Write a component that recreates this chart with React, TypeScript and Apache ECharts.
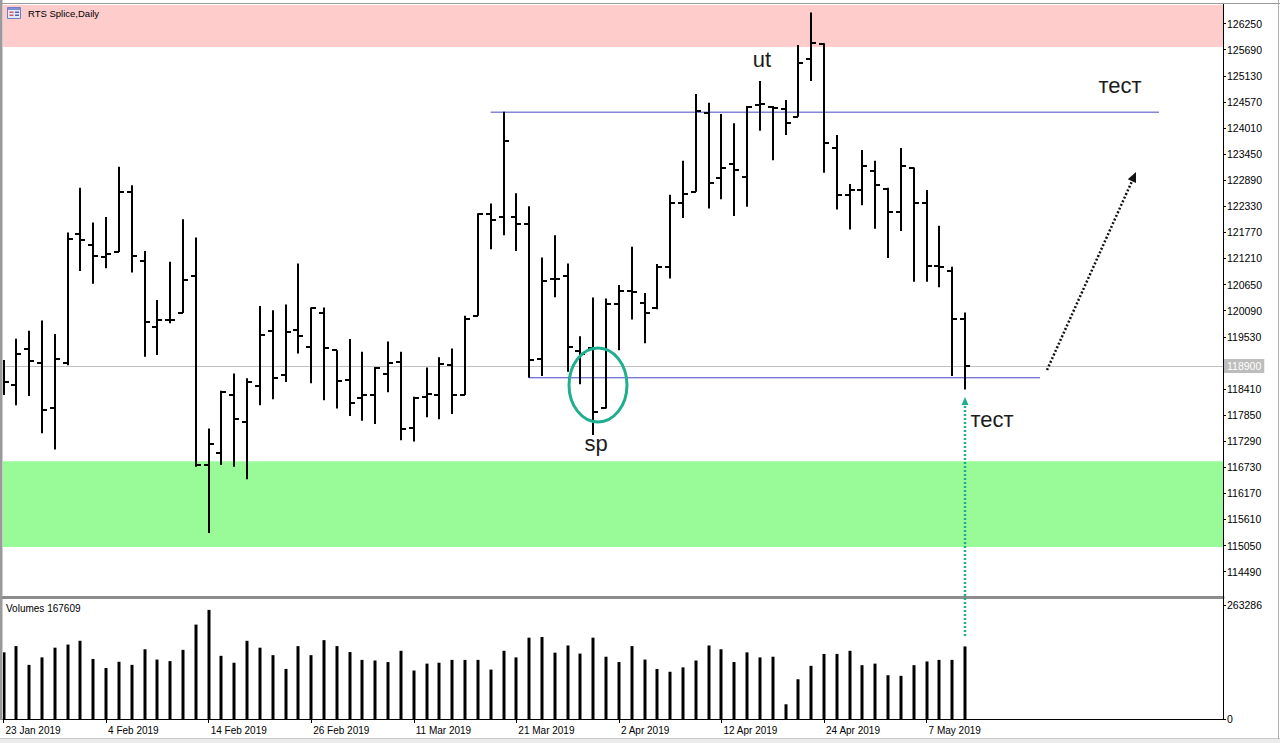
import React, { useEffect, useRef } from 'react';
import * as echarts from 'echarts';

// ---- data ----
const dates = [
  '23 Jan 2019', '24 Jan 2019', '25 Jan 2019', '28 Jan 2019', '29 Jan 2019', '30 Jan 2019', '31 Jan 2019', '1 Feb 2019',
  '4 Feb 2019', '5 Feb 2019', '6 Feb 2019', '7 Feb 2019', '8 Feb 2019', '11 Feb 2019', '12 Feb 2019', '13 Feb 2019',
  '14 Feb 2019', '15 Feb 2019', '18 Feb 2019', '19 Feb 2019', '20 Feb 2019', '21 Feb 2019', '22 Feb 2019', '25 Feb 2019',
  '26 Feb 2019', '27 Feb 2019', '28 Feb 2019', '1 Mar 2019', '4 Mar 2019', '5 Mar 2019', '6 Mar 2019', '7 Mar 2019',
  '11 Mar 2019', '12 Mar 2019', '13 Mar 2019', '14 Mar 2019', '15 Mar 2019', '18 Mar 2019', '19 Mar 2019', '20 Mar 2019',
  '21 Mar 2019', '22 Mar 2019', '25 Mar 2019', '26 Mar 2019', '27 Mar 2019', '28 Mar 2019', '29 Mar 2019', '1 Apr 2019',
  '2 Apr 2019', '3 Apr 2019', '4 Apr 2019', '5 Apr 2019', '8 Apr 2019', '9 Apr 2019', '10 Apr 2019', '11 Apr 2019',
  '12 Apr 2019', '15 Apr 2019', '16 Apr 2019', '17 Apr 2019', '18 Apr 2019', '19 Apr 2019', '22 Apr 2019', '23 Apr 2019',
  '24 Apr 2019', '25 Apr 2019', '26 Apr 2019', '29 Apr 2019', '30 Apr 2019', '2 May 2019', '3 May 2019', '6 May 2019',
  '7 May 2019', '8 May 2019', '10 May 2019', '13 May 2019',
];

const opens = [
  118710, 118500, 119270, 118970, 118010, 118960, 121740, 121500, 121250, 121350, 122630, 121160, 119750, 119890, 120040, 120840,
  116770, 117040, 118290, 117700, 118480, 119650, 118710, 119680, 119310, 120040, 119240, 118610, 118220, 118280, 118730, 118990,
  117580, 118230, 118290, 118930, 118280, 119980, 122160, 122100, 122100, 121960, 119050, 120770, 120840, 119230, 119280, 118010,
  120230, 120520, 120250, 120140, 121020, 122410, 122640, 124340, 122930, 123230, 122960, 124500, 124460, 124410, 124250, 125490,
  125810, 123590, 122570, 122690, 123090, 122710, 122210, 123160, 122410, 121050, 120950, 119910,
];
const highs = [
  119030, 119490, 119660, 119880, 119590, 121770, 122730, 121980, 122100, 123180, 122780, 121370, 120320, 121140, 122050, 121660,
  117560, 118370, 118740, 118640, 120190, 120100, 120220, 121100, 120160, 120160, 119240, 119480, 119210, 118880, 119430, 119210,
  118240, 118870, 119090, 119280, 119980, 122180, 122390, 124360, 122610, 122330, 121230, 121710, 121100, 119540, 120370, 120350,
  120640, 121460, 120470, 121090, 122580, 123310, 124740, 124550, 124310, 124110, 124480, 125020, 124480, 124610, 125790, 126490,
  125830, 123860, 122810, 123540, 123310, 122730, 123580, 123160, 122680, 121910, 121030, 120050,
];
const lows = [
  118280, 118060, 118260, 117460, 117110, 118920, 120940, 120670, 121000, 121350, 120910, 119100, 119140, 119820, 120040, 116740,
  115320, 116780, 116740, 116470, 118060, 118190, 118560, 119170, 118530, 118170, 117990, 117830, 117730, 117660, 118340, 117310,
  117280, 117800, 117760, 117870, 118280, 119980, 121410, 121710, 121370, 118650, 118690, 120380, 118780, 118510, 117420, 117990,
  119240, 119900, 119390, 120120, 120780, 122080, 122640, 122280, 122480, 122120, 122320, 123950, 123320, 123860, 124250, 125020,
  123050, 122260, 121830, 122350, 121850, 121220, 121800, 120710, 120710, 120590, 118690, 118400,
];
const closes = [
  118560, 119170, 119010, 117950, 119060, 121630, 121610, 121270, 121300, 122630, 121270, 119850, 119890, 119900, 120750, 116770,
  117230, 118340, 117770, 118560, 119560, 118640, 119640, 119550, 120150, 119290, 118580, 118100, 118280, 118870, 118970, 117540,
  118210, 118310, 118940, 118280, 119920, 122170, 122030, 123730, 121960, 119040, 120720, 120780, 119310, 119170, 117910, 120230,
  120520, 120490, 120030, 121020, 122410, 122590, 124370, 122830, 123160, 123110, 124460, 124520, 124430, 124110, 125400, 125830,
  123680, 122570, 122670, 123200, 122780, 122210, 123200, 122410, 121050, 121030, 119910, 118900,
];
const volumes = [
  153900, 168300, 125000, 142300, 164700, 171900, 180600, 138700, 117800, 132200, 125000, 161100, 137300, 133700, 159700, 218000,
  252000, 145900, 130000, 180600, 164700, 147400, 115600, 168300, 147400, 182100, 168300, 154600, 136500, 135100, 131500, 157500,
  112000, 127900, 130000, 136500, 136500, 136500, 114100, 157500, 142300, 187800, 189300, 153200, 169800, 151000, 187800, 143800,
  131500, 168300, 137300, 115600, 109100, 119200, 135100, 169800, 161100, 131500, 153900, 142300, 143800, 34000, 91800, 122800,
  150300, 150300, 157500, 124300, 127900, 101100, 99700, 124300, 132900, 136500, 136500, 167609,
];

const priceTicks = [
  114490, 115050, 115610, 116170, 116730, 117290, 117850, 118410, 118970, 119530, 120090,
  120650, 121210, 121770, 122330, 122890, 123450, 124010, 124570, 125130, 125690, 126250,
];
const volumeTicks = [0, 263286];
const dateTicks = [0, 8, 16, 24, 32, 40, 48, 56, 64, 72];

const resistanceLine = [[38, 124350], [90.13, 124350]];
const supportLine = [[41, 118650], [80.85, 118650]];
const bidPrice = 118900;
const lastVolume = 167609;
const supplyZone = [125750, 126650];
const demandZone = [115020, 116860];

const X_MIN = -0.04;
const X_MAX = 95.12;
const P_MIN = 113930;
const P_MAX = 126650;
const V_MAX = 272500;

const FONT = '"Liberation Sans", Arial, sans-serif';
const TEAL = '#1fae8f';

function annoText(text: string, x: number, y: number) {
  return {
    type: 'text',
    z: 100,
    silent: true,
    x,
    y,
    style: {
      text,
      fill: '#1c1c1c',
      fontSize: 22,
      fontFamily: FONT,
      align: 'center',
      verticalAlign: 'middle',
      textAlign: 'center',
      textVerticalAlign: 'middle',
      shadowColor: 'rgba(0,0,0,0.45)',
      shadowBlur: 3,
      shadowOffsetY: 1,
    },
  };
}

export default function App() {
  const ref = useRef<HTMLDivElement>(null);

  useEffect(() => {
    const chart = echarts.init(ref.current!, null, { renderer: 'svg' });
    const ohlc = dates.map((_, i) => [i, opens[i], highs[i], lows[i], closes[i]]);
    const vol = volumes.map((v, i) => [i, v]);
    // the price-label box of the bid line hides the tick label it sits on
    const priceLabels = priceTicks.filter((v) => Math.abs(v - bidPrice) > 200);

    const ohlcRender = (_params: any, api: any) => {
      const i = api.value(0);
      const o = api.coord([i, api.value(1)]);
      const h = api.coord([i, api.value(2)]);
      const l = api.coord([i, api.value(3)]);
      const c = api.coord([i, api.value(4)]);
      const x = Math.round(h[0]);
      const st = { stroke: '#000', lineWidth: 2 };
      const oy = Math.round(o[1]);
      const cy = Math.round(c[1]);
      return {
        type: 'group',
        children: [
          { type: 'line', shape: { x1: x, y1: h[1], x2: x, y2: l[1] }, style: st },
          { type: 'line', shape: { x1: x - 5, y1: oy, x2: x, y2: oy }, style: st },
          { type: 'line', shape: { x1: x, y1: cy, x2: x + 5, y2: cy }, style: st },
        ],
      };
    };

    const volRender = (_params: any, api: any) => {
      const i = api.value(0);
      const b = api.coord([i, 0]);
      const t = api.coord([i, api.value(1)]);
      const x = Math.round(b[0]);
      return {
        type: 'rect',
        shape: { x: x - 1.5, y: t[1], width: 3, height: b[1] - t[1] },
        style: { fill: '#000' },
      };
    };

    const blue = '#4646c8';

    chart.setOption({
      animation: false,
      backgroundColor: '#ffffff',
      grid: [
        { left: 3, top: 5, width: 1220, height: 592.7, containLabel: false, outerBoundsMode: 'none' },
        { left: 3, top: 601, width: 1220, height: 118, containLabel: false, outerBoundsMode: 'none' },
      ],
      xAxis: [
        {
          type: 'value', gridIndex: 0, min: X_MIN, max: X_MAX,
          axisLine: { show: true, onZero: false, lineStyle: { color: '#8c8c8c', width: 3 } },
          axisTick: { show: false }, axisLabel: { show: false }, splitLine: { show: false },
        },
        {
          type: 'value', gridIndex: 1, min: X_MIN, max: X_MAX,
          axisLine: { show: true, onZero: false, lineStyle: { color: '#000', width: 1 } },
          axisTick: { show: true, customValues: dateTicks, length: 4, lineStyle: { color: '#000' } },
          axisLabel: {
            show: true, customValues: dateTicks,
            formatter: (v: number) => dates[Math.round(v)] ?? '',
            align: 'left', padding: [0, 0, 0, 2], margin: 6,
            color: '#000', fontSize: 10, fontFamily: FONT,
          },
          splitLine: { show: false },
        },
      ],
      yAxis: [
        {
          type: 'value', gridIndex: 0, position: 'right', min: P_MIN, max: P_MAX,
          axisLine: { show: true, onZero: false, lineStyle: { color: '#000' } },
          axisTick: { show: true, customValues: priceTicks, length: 3, lineStyle: { color: '#000' } },
          axisLabel: {
            show: true, customValues: priceLabels, formatter: (v: number) => String(v),
            color: '#000', fontSize: 10.5, fontFamily: FONT, margin: 4,
          },
          splitLine: { show: false },
        },
        {
          type: 'value', gridIndex: 1, position: 'right', min: 0, max: V_MAX,
          axisLine: { show: true, onZero: false, lineStyle: { color: '#000' } },
          axisTick: { show: true, customValues: volumeTicks, length: 3, lineStyle: { color: '#000' } },
          axisLabel: {
            show: true, customValues: volumeTicks, formatter: (v: number) => String(v),
            color: '#000', fontSize: 10.5, fontFamily: FONT, margin: 4,
          },
          splitLine: { show: false },
        },
      ],
      series: [
        {
          type: 'line', name: 'resistance', xAxisIndex: 0, yAxisIndex: 0, data: resistanceLine,
          symbol: 'none', silent: true, z: 2,
          lineStyle: { color: blue, width: 1 },
          markArea: {
            silent: true,
            data: [
              [{ xAxis: X_MIN, yAxis: supplyZone[0], itemStyle: { color: '#ffcccc' } }, { xAxis: X_MAX, yAxis: supplyZone[1] }],
              [{ xAxis: X_MIN, yAxis: demandZone[0], itemStyle: { color: '#98fb98' } }, { xAxis: X_MAX, yAxis: demandZone[1] }],
            ],
          },
        },
        {
          type: 'line', name: 'support', xAxisIndex: 0, yAxisIndex: 0, data: supportLine,
          symbol: 'none', silent: true, z: 3,
          lineStyle: { color: blue, width: 1 },
          markLine: {
            silent: true, symbol: 'none',
            data: [{ yAxis: bidPrice }],
            lineStyle: { color: '#c0c0c0', width: 1, type: 'solid' },
            label: {
              show: true, position: 'end', formatter: String(bidPrice), distance: 1,
              color: '#ffffff', backgroundColor: '#bdbdbd', padding: [2, 3, 1, 3],
              fontSize: 10.5, fontFamily: FONT,
            },
          },
        },
        {
          type: 'custom', name: 'RTS', xAxisIndex: 0, yAxisIndex: 0, data: ohlc,
          encode: { x: 0, y: [1, 2, 3, 4] }, renderItem: ohlcRender, clip: true, silent: true, z: 5,
        },
        {
          type: 'custom', name: 'Volumes', xAxisIndex: 1, yAxisIndex: 1, data: vol,
          encode: { x: 0, y: 1 }, renderItem: volRender, clip: true, silent: true, z: 5,
        },
      ],
      graphic: [
        // window frame
        { type: 'line', silent: true, shape: { x1: 0, y1: 3.5, x2: 1280, y2: 3.5 }, style: { stroke: '#9a9a9a', lineWidth: 1 } },
        { type: 'rect', silent: true, shape: { x: 0, y: 0, width: 2.5, height: 720 }, style: { fill: '#9a9a9a' } },
        { type: 'rect', silent: true, shape: { x: 0, y: 739, width: 1280, height: 4 }, style: { fill: '#ececec' } },
        { type: 'line', silent: true, shape: { x1: 0, y1: 738.5, x2: 1280, y2: 738.5 }, style: { stroke: '#c8c8c8', lineWidth: 1 } },
        { type: 'line', silent: true, shape: { x1: 1278.5, y1: 0, x2: 1278.5, y2: 739 }, style: { stroke: '#b0b0b0', lineWidth: 1 } },
        { type: 'line', silent: true, z: 50, shape: { x1: 1223.5, y1: 4, x2: 1223.5, y2: 720 }, style: { stroke: '#000', lineWidth: 1 } },
        // title icon
        { type: 'rect', silent: true, z: 50, shape: { x: 7.5, y: 7.5, width: 13, height: 11 }, style: { fill: '#e4e9f8', stroke: '#6f7fc4', lineWidth: 1 } },
        { type: 'rect', silent: true, z: 51, shape: { x: 8, y: 8, width: 12, height: 2 }, style: { fill: '#8090d4' } },
        { type: 'rect', silent: true, z: 51, shape: { x: 9.5, y: 11.5, width: 4, height: 1.5 }, style: { fill: '#d45a5a' } },
        { type: 'rect', silent: true, z: 51, shape: { x: 9.5, y: 14.5, width: 4, height: 1.5 }, style: { fill: '#d45a5a' } },
        { type: 'rect', silent: true, z: 51, shape: { x: 15, y: 11.5, width: 4, height: 1.5 }, style: { fill: '#5060c0' } },
        { type: 'rect', silent: true, z: 51, shape: { x: 15, y: 14.5, width: 4, height: 1.5 }, style: { fill: '#5060c0' } },
        {
          type: 'text', silent: true, z: 50, x: 28, y: 13,
          style: { text: 'RTS Splice,Daily', fill: '#000', fontSize: 9.5, fontFamily: FONT, verticalAlign: 'middle', textVerticalAlign: 'middle' },
        },
        {
          type: 'text', silent: true, z: 50, x: 6, y: 608,
          style: { text: 'Volumes ' + lastVolume, fill: '#000', fontSize: 10, fontFamily: FONT, verticalAlign: 'middle', textVerticalAlign: 'middle' },
        },
        // annotations
        annoText('ut', 762, 59),
        annoText('sp', 596, 443),
        annoText('тест', 1120, 85),
        annoText('тест', 992, 419),
        {
          type: 'ellipse', silent: true, z: 100,
          shape: { cx: 598, cy: 385, rx: 29, ry: 37 },
          style: { fill: 'none', stroke: TEAL, lineWidth: 3 },
        },
        {
          type: 'line', silent: true, z: 100,
          shape: { x1: 965, y1: 636, x2: 965, y2: 404 },
          style: { stroke: TEAL, lineWidth: 2.5, lineDash: [2, 2] },
        },
        {
          type: 'polygon', silent: true, z: 100,
          shape: { points: [[965, 397], [961.5, 405], [968.5, 405]] },
          style: { fill: TEAL },
        },
        {
          type: 'line', silent: true, z: 100,
          shape: { x1: 1047, y1: 370, x2: 1132.5, y2: 180 },
          style: { stroke: '#111', lineWidth: 2.5, lineDash: [2, 2] },
        },
        {
          type: 'polygon', silent: true, z: 100,
          shape: { points: [[1136, 172], [1136, 183], [1127.8, 179.3]] },
          style: { fill: '#111' },
        },
      ],
    });

    return () => chart.dispose();
  }, []);

  return (
    <div
      ref={ref}
      style={{ position: 'fixed', left: 0, top: 0, width: 1280, height: 743, background: '#fff' }}
    />
  );
}
